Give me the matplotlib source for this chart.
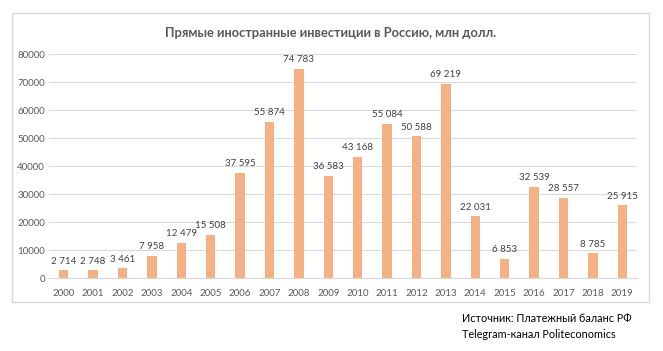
import matplotlib.pyplot as plt
from matplotlib.patches import Rectangle

years = [str(y) for y in range(2000, 2020)]
fdi = [2714, 2748, 3461, 7958, 12479, 15508, 37595, 55874, 74783, 36583,
       43168, 55084, 50588, 69219, 22031, 6853, 32539, 28557, 8785, 25915]
yticks = [0, 10000, 20000, 30000, 40000, 50000, 60000, 70000, 80000]

plt.rcParams['font.family'] = ['Lato', 'DejaVu Sans']

W, H = 663, 351
fig = plt.figure(figsize=(W / 100, H / 100), dpi=100)

# chart frame
fig.patches.append(Rectangle((12 / W, 1 - 302 / H), (649 - 12) / W, (302 - 13) / H,
                             transform=fig.transFigure, fill=False,
                             edgecolor='#d9d9d9', linewidth=1))

ax = fig.add_axes([49 / W, 1 - 278 / H, (637 - 49) / W, (278 - 54) / H])
x = list(range(len(years)))
bars = ax.bar(x, fdi, width=0.32, color='#f4b183', zorder=2)
for xi, v in zip(x, fdi):
    ax.text(xi, v + 1700, f'{v:,}'.replace(',', ' '), ha='center', va='bottom',
            fontsize=7, color='#404040')

ax.set_xlim(-0.5, len(years) - 0.5)
ax.set_ylim(0, 80000)
ax.set_xticks(x)
ax.set_xticklabels(years)
ax.set_yticks(yticks)
ax.set_yticklabels([str(t) for t in yticks])
ax.tick_params(axis='both', length=0, labelsize=7, colors='#595959')
ax.tick_params(axis='x', pad=8)
ax.tick_params(axis='y', pad=3)
ax.grid(axis='y', color='#d9d9d9', linewidth=0.8, zorder=0)
for s in ['top', 'right', 'left']:
    ax.spines[s].set_visible(False)
ax.spines['bottom'].set_color('#d9d9d9')

fig.text(331 / W, 1 - 33 / H, 'Прямые иностранные инвестиции в Россию, млн долл.',
         ha='center', va='center', fontsize=9.3, fontweight='bold', color='#595959')

fig.text(462 / W, 1 - 318 / H, 'Источник: Платежный баланс РФ',
         ha='left', va='center', fontsize=7.8, color='black')
fig.text(462 / W, 1 - 335 / H, 'Telegram-канал Politeconomics',
         ha='left', va='center', fontsize=7.8, color='black')

fig.savefig('out.png', dpi=100)
